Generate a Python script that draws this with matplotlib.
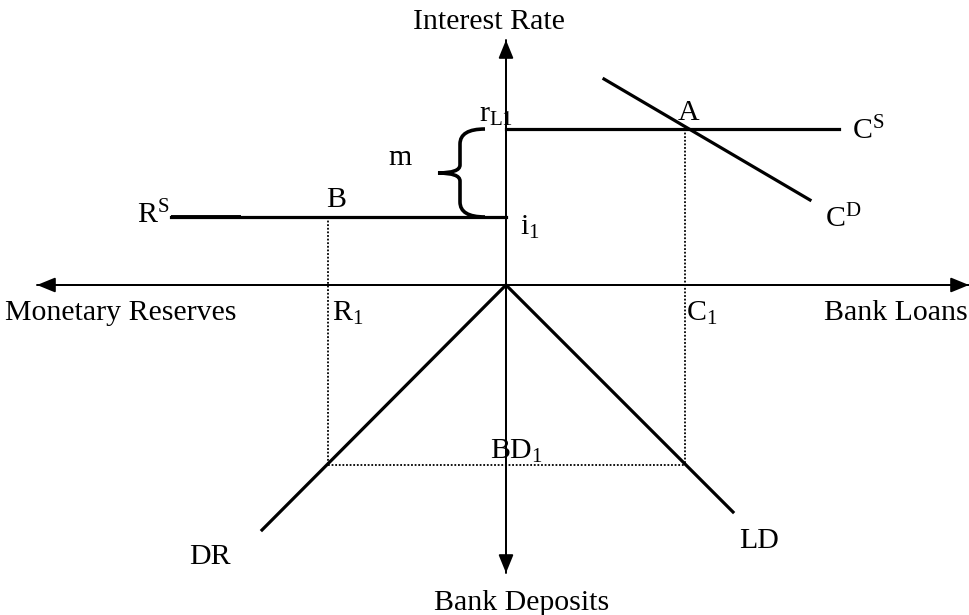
import matplotlib
matplotlib.use("Agg")
import matplotlib.pyplot as plt
from matplotlib.path import Path
from matplotlib.patches import PathPatch

plt.rcParams["font.family"] = "Liberation Serif"
plt.rcParams["mathtext.fontset"] = "custom"
plt.rcParams["mathtext.rm"] = "Liberation Serif"
plt.rcParams["mathtext.it"] = "Liberation Serif:italic"

# diagram values, origin at the axes crossing
# up = interest rate, right = bank loans, left = reserves, down = deposits
r_L1 = 156          # loan rate
i_1 = 68            # interbank / reserve rate
C_1 = 179           # bank loans at A
R_1 = -178          # monetary reserves at B
BD_1 = -180         # bank deposits
cs_x = [0, 333]             # C^S supply of loans
rs_x = [-335, 0]            # R^S supply of reserves
cd_x = [98, 304]            # C^D demand for loans
cd_y = [206, 85]
dr_x = [0, -244]            # DR deposits -> reserves
dr_y = [0, -245]
ld_x = [0, 227]             # LD loans -> deposits
ld_y = [0, -227]
x_axis = [-469, 463]
y_axis = [-288, 245]

fig = plt.figure(figsize=(9.69, 6.15), dpi=100)
ax = fig.add_axes([0, 0, 1, 1])
ax.set_xlim(-506, 463)
ax.set_ylim(-330, 285)
ax.axis("off")

arrow = dict(arrowstyle="-|>,head_length=1.1,head_width=0.45", color="black",
             lw=1.4, shrinkA=0, shrinkB=0)
ax.annotate("", xy=(x_axis[0], 0), xytext=(x_axis[1], 0), arrowprops=arrow)
ax.annotate("", xy=(x_axis[1], 0), xytext=(x_axis[0], 0), arrowprops=arrow)
ax.annotate("", xy=(0, y_axis[1]), xytext=(0, y_axis[0]), arrowprops=arrow)
ax.annotate("", xy=(0, y_axis[0]), xytext=(0, y_axis[1]), arrowprops=arrow)

lw = 2.3
ax.plot(cs_x, [r_L1, r_L1], color="black", lw=lw)
ax.plot(rs_x, [i_1, i_1], color="black", lw=lw)
ax.plot([rs_x[0], rs_x[0] + 70], [i_1, i_1], color="black", lw=2.8,
        solid_capstyle="butt")
ax.plot(cd_x, cd_y, color="black", lw=lw)
ax.plot(dr_x, dr_y, color="black", lw=lw)
ax.plot(ld_x, ld_y, color="black", lw=lw)

dot = dict(color="black", lw=1.3, ls=(0, (1, 1)))
ax.plot([C_1, C_1], [r_L1, BD_1], **dot)
ax.plot([R_1, R_1], [i_1, BD_1], **dot)
ax.plot([R_1, C_1], [BD_1, BD_1], **dot)

# brace for the margin m
bx, tip = -46, -68
mid = (r_L1 + i_1) / 2
verts = [(-21, r_L1), (bx, r_L1), (bx, r_L1 - 15),
         (bx, mid + 8),
         (bx, mid), (tip, mid),
         (bx, mid), (bx, mid - 8),
         (bx, i_1 + 15),
         (bx, i_1), (-21, i_1)]
codes = [Path.MOVETO, Path.CURVE3, Path.CURVE3, Path.LINETO,
         Path.CURVE3, Path.CURVE3, Path.CURVE3, Path.CURVE3,
         Path.LINETO, Path.CURVE3, Path.CURVE3]
ax.add_patch(PathPatch(Path(verts, codes), fill=False, lw=2.6, color="black"))

fs = 21.5
def label(x, y, s, ha="center", size=fs):
    ax.text(x, y, s, ha=ha, va="center", fontsize=size)

label(-17, 263, "Interest Rate")
label(16, -318, "Bank Deposits")
label(-385, -28, "Monetary Reserves")
label(-158, -28, "R$_{1}$")
label(196, -28, "C$_{1}$")
label(390, -28, "Bank Loans")
label(-353, 70, "R$^{\\mathrm{S}}$")
label(-170, 85, "B")
label(-106, 127, "m")
label(-10, 170, "r$_{\\mathrm{L1}}$")
label(24, 58, "i$_{1}$")
label(183, 172, "A")
label(362, 154, "C$^{\\mathrm{S}}$")
label(337, 66, "C$^{\\mathrm{D}}$")
label(10, -166, "BD$_{1}$")
label(-296, -272, "DR")
label(253, -256, "LD")

fig.savefig("out.png", dpi=100, facecolor="white")
